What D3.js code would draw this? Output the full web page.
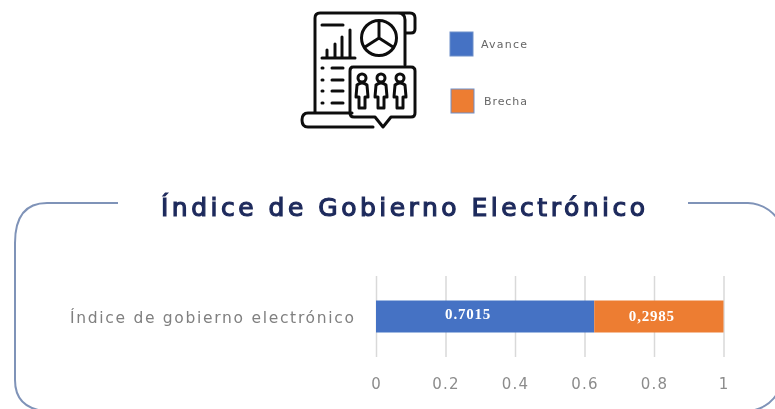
<!DOCTYPE html>
<html lang="en">
<head>
    <meta charset="UTF-8">
    <script src="https://d3js.org/d3.v7.min.js"></script>
    <title>Índice de Gobierno Electrónico</title>
    <style>
        html, body { margin: 0; padding: 0; background: #fff; overflow: hidden; }
        svg { display: block; }
        .soft text { font-family: "DejaVu Sans", sans-serif; fill: #808080; }
        .icon * { fill: none; stroke: #111; stroke-width: 3; stroke-linecap: round; stroke-linejoin: round; }
    </style>
</head>
<body>
    <svg id="chart" width="775" height="409"></svg>

    <script>
        const categories = ["Índice de gobierno electrónico"];
        const seriesNames = ["Avance", "Brecha"];
        const seriesColors = ["#4472c4", "#ed7d31"];
        // drawn lengths (the printed labels do not match them)
        const avance = [0.628];
        const brecha = [0.372];
        const valueLabels = ["0.7015", "0,2985"];
        const tickValues = [0, 0.2, 0.4, 0.6, 0.8, 1];
        const title = "Índice de Gobierno Electrónico";

        const svg = d3.select("#chart");

        const defs = svg.append("defs");
        defs.append("filter").attr("id", "blur").append("feGaussianBlur").attr("stdDeviation", 0.7);

        const root = svg.append("g").attr("filter", "url(#blur)");

        const x = d3.scaleLinear().domain([0, 1]).range([376, 723.5]);
        const y = d3.scaleBand().domain(categories).range([276, 357]).paddingInner(0).paddingOuter(0.766);

        // rounded frame, open behind the title, bottom edge falls just off the page
        root.append("path")
            .attr("d", "M118,203 H47 Q15,203 15,243 V380 Q15,408 45,411 H750 Q768,408 777,394 M688,203 H748 Q766,204 777,218")
            .attr("fill", "none")
            .attr("stroke", "#7f93b8")
            .attr("stroke-width", 2);

        root.append("text")
            .attr("x", 161)
            .attr("y", 216)
            .attr("textLength", 484)
            .attr("lengthAdjust", "spacing")
            .attr("font-family", "'DejaVu Sans', sans-serif")
            .attr("font-size", 25)
            .attr("fill", "#1f2a5c")
            .attr("stroke", "#1f2a5c")
            .attr("stroke-width", 1.2)
            .text(title);

        // x axis, ticks run up as gridlines
        const xAxis = root.append("g")
            .attr("class", "soft")
            .attr("transform", "translate(0,357)")
            .call(d3.axisBottom(x).tickValues(tickValues).tickFormat(d => String(d)).tickSize(-81).tickPadding(21));
        xAxis.select(".domain").remove();
        xAxis.selectAll("line").attr("stroke", "#d9d9d9").attr("stroke-width", 1.5);
        xAxis.selectAll("text").attr("font-size", 15).attr("letter-spacing", 1.2).style("fill", "#8c8c8c");

        // category label
        const yAxis = root.append("g")
            .attr("class", "soft")
            .attr("transform", "translate(376,2)")
            .call(d3.axisLeft(y).tickSize(0).tickPadding(22));
        yAxis.select(".domain").remove();
        yAxis.selectAll("text")
            .attr("font-size", 15.5)
            .attr("textLength", 284)
            .attr("lengthAdjust", "spacing");

        // stacked bar
        const stacked = d3.stack().keys([0, 1]).value((d, k) => d[k])(categories.map((c, i) => [avance[i], brecha[i]]));

        root.selectAll(".bar")
            .data(stacked)
            .enter()
            .append("rect")
            .attr("class", "bar")
            .attr("x", d => x(d[0][0]))
            .attr("y", y(categories[0]))
            .attr("width", d => x(d[0][1]) - x(d[0][0]))
            .attr("height", y.bandwidth())
            .attr("fill", (d, i) => seriesColors[i]);

        // value labels sit left of the segment centres in the original
        const labelShift = [-17, -7];
        const labelDrop = [-2, 0];
        root.selectAll(".value")
            .data(stacked)
            .enter()
            .append("text")
            .attr("class", "value")
            .attr("x", (d, i) => (x(d[0][0]) + x(d[0][1])) / 2 + labelShift[i])
            .attr("y", (d, i) => y(categories[0]) + y.bandwidth() / 2 + labelDrop[i])
            .attr("dy", "0.32em")
            .attr("text-anchor", "middle")
            .attr("font-family", "'Liberation Serif', serif")
            .attr("font-weight", "bold")
            .attr("font-size", 15)
            .attr("letter-spacing", 0.8)
            .attr("fill", "#fff")
            .text((d, i) => valueLabels[i]);

        // legend
        const legendY = d3.scalePoint().domain(seriesNames).range([44, 101]);
        const legendBoxX = d3.scaleOrdinal().domain(seriesNames).range([450, 451]);
        const legendTextX = d3.scaleOrdinal().domain(seriesNames).range([481, 484]);
        const legendTextW = d3.scaleOrdinal().domain(seriesNames).range([46, 43]);

        const legend = root.selectAll(".legend")
            .data(seriesNames)
            .enter()
            .append("g")
            .attr("class", "legend");
        legend.append("rect")
            .attr("x", d => legendBoxX(d))
            .attr("y", d => legendY(d) - 12)
            .attr("width", 23)
            .attr("height", 24)
            .attr("fill", (d, i) => seriesColors[i])
            .attr("stroke", "#6f8fc9")
            .attr("stroke-width", 1);
        legend.append("text")
            .attr("x", d => legendTextX(d))
            .attr("y", d => legendY(d))
            .attr("dy", "0.32em")
            .attr("font-family", "'DejaVu Sans', sans-serif")
            .attr("font-size", 11)
            .attr("textLength", d => legendTextW(d))
            .attr("fill", "#666")
            .text(d => d);

        // report icon
        const icon = root.append("g").attr("class", "icon");
        icon.append("path").attr("d",
            "M352,113 H308 Q302,113 302,120 Q302,127 308,127 H373 " +       // base scroll
            "M315,113 V18 Q315,13 320,13 H410 Q415,13 415,18 V29 Q415,33 411,33 H405 " + // page top
            "M398,13 Q405,13 405,20 V65");                                   // curl and right edge
        icon.append("path").attr("d",
            "M353,67 H411 Q415,67 415,71 V113 Q415,117 411,117 H391 L383,127 L375,117 H354 Q350,117 350,113 V71 Q350,67 353,67 Z");
        icon.append("circle").attr("cx", 379).attr("cy", 38).attr("r", 17.5);
        icon.append("path").attr("d", "M379,21 V38 M379,38 L365,47 M379,38 L393,47");
        icon.append("path").attr("d",
            "M322,25 H343 M322,58 H355 M327,58 V50 M335,58 V44 M342,58 V37 M350,58 V30");
        icon.append("path").attr("d",
            "M322,68 H323 M332,68 H343 M322,80 H323 M332,80 H343 M322,91 H323 M332,91 H343 M322,103 H323 M332,103 H343");
        [362, 381, 400].forEach(px => {
            icon.append("circle").attr("cx", px).attr("cy", 78).attr("r", 4);
            icon.append("path").attr("d",
                `M${px - 5},85 Q${px},81 ${px + 5},85 L${px + 6},97 H${px + 3} V108 H${px - 3} V97 H${px - 6} Z`);
        });
    </script>
</body>
</html>
